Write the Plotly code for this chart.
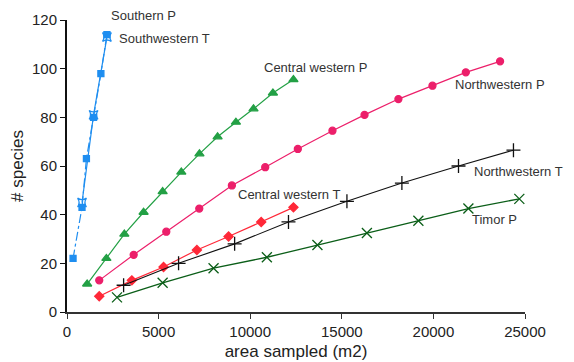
import plotly.graph_objects as go

southern_p_x = [330, 820, 1060, 1450, 1850, 2180]
southern_p_y = [22, 43, 63, 80, 98, 114]
southwestern_t_x = [820, 1450, 2180]
southwestern_t_y = [45, 81, 113]
cw_p_x = [1100, 2150, 3130, 4180, 5220, 6240, 7230, 8220, 9220, 10180, 11240, 12360]
cw_p_y = [11.5, 22, 32, 41, 49.5, 57.5, 65, 72, 78, 83.5, 90, 95.5]
nw_p_x = [1760, 3640, 5420, 7220, 9000, 10820, 12600, 14490, 16240, 18090, 19950, 21770, 23640]
nw_p_y = [13, 23.5, 33, 42.5, 52, 59.5, 67, 74.5, 81, 87.5, 93, 98.5, 103]
cw_t_x = [1760, 3540, 5270, 7090, 8820, 10600, 12360]
cw_t_y = [6.5, 13, 18.5, 25.5, 31, 37, 43]
nw_t_x = [3090, 6090, 9150, 12090, 15280, 18280, 21370, 24370]
nw_t_y = [11, 20, 28, 37, 45.5, 53, 60, 66.5]
timor_x = [2730, 5220, 8000, 10910, 13670, 16370, 19180, 21910, 24690]
timor_y = [6, 12, 18, 22.5, 27.5, 32.5, 37.5, 42.5, 46.5]

x_ticks = [0, 5000, 10000, 15000, 20000, 25000]
y_ticks = [0, 20, 40, 60, 80, 100, 120]

fig = go.Figure()

def add(x, y, color, symbol, size, dash="solid", width=1.2):
    fig.add_trace(go.Scatter(
        x=x, y=y, mode="lines+markers",
        line=dict(color=color, width=width, dash=dash),
        marker=dict(symbol=symbol, size=size, color=color,
                    line=dict(color=color, width=1.3)),
        showlegend=False, cliponaxis=False))

add(southern_p_x, southern_p_y, "#1f8ef0", "square", 6, dash="dashdot")
add(southwestern_t_x, southwestern_t_y, "#1f8ef0", "star-square-open", 8)
add(cw_p_x, cw_p_y, "#23a045", "triangle-up", 8)
add(nw_p_x, nw_p_y, "#ec1f6a", "circle", 7)
add(cw_t_x, cw_t_y, "#ff2838", "diamond", 7)
add(nw_t_x, nw_t_y, "#111111", "cross-thin", 10, width=1.1)
add(timor_x, timor_y, "#0b5e18", "x-thin", 10, width=1.3)

labels = [
    ("Southwestern T", 2748, 112.6),
    ("Central western P", 10653, 100.3),
    ("Northwestern P", 21071, 93.3),
    ("Central western T", 9235, 48.4),
    ("Northwestern T", 22107, 57.6),
    ("Timor P", 21998, 38.0),
]
for text, lx, ly in labels:
    fig.add_annotation(x=lx, y=ly, xref="x", yref="y", text=text,
                       showarrow=False, xanchor="left", yanchor="middle",
                       font=dict(family="Arial, Liberation Sans", size=13, color="#333333"))
# label sitting above the top of the y range
fig.add_annotation(x=2307, y=1.015, xref="x", yref="paper", text="Southern P",
                   showarrow=False, xanchor="left", yanchor="middle",
                   font=dict(family="Arial, Liberation Sans", size=13, color="#333333"))

# the page body adds an 8px offset, so the figure is sized to fit the window
fig.update_layout(
    width=566, height=354,
    margin=dict(l=59, r=49, t=12, b=50),
    plot_bgcolor="white", paper_bgcolor="white",
    font=dict(family="Arial, Liberation Sans", color="#222222"),
)
fig.update_xaxes(
    range=[0, 25000], tickvals=x_ticks, ticktext=[str(v) for v in x_ticks],
    showgrid=False, zeroline=False, showline=True, linecolor="#333333", linewidth=1.5,
    ticks="outside", ticklen=5, tickcolor="#333333", tickfont=dict(size=15),
    title=dict(text="area sampled (m2)", font=dict(size=17), standoff=6),
    automargin=False,
)
fig.update_yaxes(
    range=[0, 120], tickvals=y_ticks,
    showgrid=False, zeroline=False, showline=True, linecolor="#111111", linewidth=2,
    ticks="outside", ticklen=5, tickcolor="#111111", tickfont=dict(size=15),
    title=dict(text="# species", font=dict(size=17), standoff=8),
    automargin=False,
)

fig.write_html("out.html")
